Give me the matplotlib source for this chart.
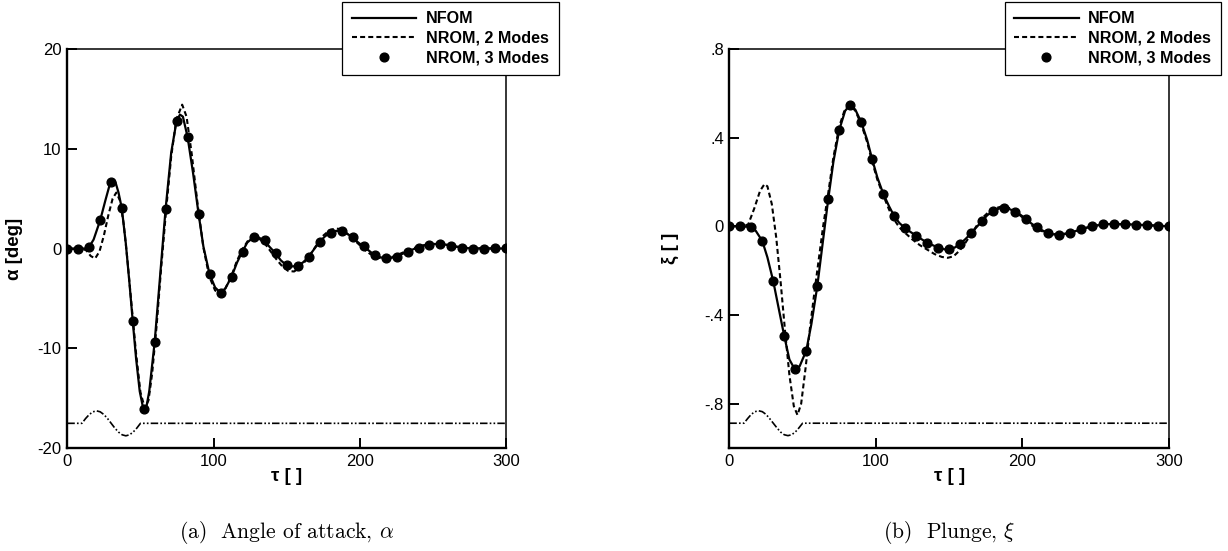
import matplotlib
matplotlib.use("Agg")
from matplotlib import pyplot as plt
from matplotlib.lines import Line2D

plt.rcParams['font.family'] = ['Liberation Sans', 'DejaVu Sans']
plt.rcParams['mathtext.fontset'] = 'cm'

# ---- (a) angle of attack ----
tau_mk = [7.5 * i for i in range(41)]
alpha_rom3 = [0, 0, 0.17, 2.84, 6.7, 4.07, -7.23, -16.1, -9.37, 4.0, 12.8, 11.16, 3.47,
              -2.56, -4.42, -2.84, -0.35, 1.12, 0.81, -0.46, -1.65, -1.75, -0.88, 0.63,
              1.58, 1.79, 1.16, 0.21, -0.63, -0.98, -0.81, -0.35, 0.1, 0.39, 0.46, 0.28,
              0.1, 0, 0, 0.03, 0.03]

tau_fom_a = [0, 7.5, 12, 15, 18, 22.5, 26, 29, 31, 33, 35, 37.2, 40, 42.5, 44.7, 47, 49.5,
             52, 54, 56, 59.7, 63, 67.2, 71, 74.7, 77, 79, 82.2, 86, 89.7, 93, 97.2, 101,
             104.7, 108, 112.2, 116, 119.5, 123, 127.2, 130, 134.7, 138, 142.2, 146, 149.7,
             153, 157.2, 161, 164.7, 168, 172.2, 176, 179.5, 183, 187, 190, 194.5, 198,
             202.2, 206, 209.7, 213, 217.2, 221, 224.7, 228, 232.2, 236, 239.7, 244, 247.2,
             251, 254.5, 258, 262.2, 266, 269.7, 275, 285, 300]
alpha_fom = [0, 0, 0, 0.17, 0.9, 2.84, 4.8, 6.4, 6.85, 6.6, 5.6, 4.07, 0.5, -3.5, -7.23, -11,
             -14.3, -16.1, -15.9, -14.3, -9.37, -3.5, 4.0, 9.6, 12.8, 13.4, 13.2, 11.16, 7.5,
             3.47, 0.2, -2.56, -3.9, -4.42, -4.0, -2.84, -1.4, -0.35, 0.6, 1.12, 1.15, 0.81,
             0.2, -0.46, -1.2, -1.65, -1.8, -1.75, -1.4, -0.88, -0.2, 0.63, 1.2, 1.58, 1.75,
             1.79, 1.6, 1.16, 0.7, 0.21, -0.2, -0.63, -0.85, -0.98, -0.95, -0.81, -0.6, -0.35,
             -0.1, 0.1, 0.3, 0.39, 0.45, 0.46, 0.4, 0.28, 0.18, 0.1, 0.02, 0, 0]

tau_rom2_a = [0, 10, 13, 16, 19, 22, 25, 28, 31, 33.5, 36, 38.5, 41, 44, 47, 50, 53, 55.5,
              58, 61, 64, 67.5, 71, 74.5, 78.5, 81.5, 85, 89, 93, 97, 101, 105, 108, 112,
              116, 120, 124, 128, 131, 135, 139, 143, 147, 151, 155, 159, 163, 167, 171, 175,
              179, 183, 187, 191, 195, 199, 203, 207, 211, 215, 219, 223, 227, 231, 235, 240,
              245, 250, 255, 260, 265, 270, 280, 300]
alpha_rom2 = [0, 0, -0.2, -0.75, -1.0, -0.3, 1.3, 3.3, 5.0, 5.6, 4.8, 2.5, -1.0, -5.8, -10.5,
              -14.4, -16.0, -15.2, -12.5, -7.8, -2.2, 3.8, 9.2, 12.9, 14.4, 13.2, 9.5, 4.5,
              0.1, -2.8, -4.2, -4.5, -4.0, -2.8, -1.2, 0.0, 0.9, 1.2, 1.0, 0.5, -0.3, -1.1,
              -1.8, -2.25, -2.3, -1.9, -1.2, -0.4, 0.5, 1.3, 1.8, 2.0, 1.95, 1.5, 1.0, 0.45,
              -0.1, -0.55, -0.85, -1.0, -0.95, -0.8, -0.55, -0.3, -0.05, 0.2, 0.38, 0.45,
              0.45, 0.35, 0.2, 0.1, 0.02, 0]

tau_pulse = [0, 10, 12.5, 15, 17.5, 20, 22.5, 25, 27.5, 30, 32.5, 35, 37.5, 40, 42.5, 45,
             47.5, 50, 300]
alpha_pulse = [-17.5, -17.5, -17.02, -16.62, -16.35, -16.25, -16.35, -16.62, -17.02, -17.5,
               -17.98, -18.38, -18.65, -18.75, -18.65, -18.38, -17.98, -17.5, -17.5]

# ---- (b) plunge ----
xi_rom3 = [0, 0, -0.003, -0.066, -0.248, -0.495, -0.645, -0.56, -0.271, 0.123, 0.434, 0.546,
           0.469, 0.301, 0.147, 0.046, -0.009, -0.043, -0.074, -0.096, -0.104, -0.079,
           -0.032, 0.024, 0.068, 0.084, 0.066, 0.033, -0.005, -0.030, -0.038, -0.030,
           -0.014, 0, 0.009, 0.011, 0.009, 0.008, 0.005, 0.003, 0]

tau_fom_b = [0, 7.5, 15, 18, 22.5, 26, 30, 34, 37.5, 41, 45, 48, 52.5, 56, 60, 64, 67.5, 71,
             75, 79, 82.5, 86, 90, 94, 97.5, 101, 105, 109, 112.5, 116, 120, 127.5, 135,
             142.5, 147, 150, 154, 157.5, 161, 165, 168.5, 172.5, 176, 180, 184, 187.5, 191,
             195, 199, 202.5, 206, 210, 214, 217.5, 221, 225, 229, 232.5, 236, 240, 244,
             247.5, 255, 262.5, 270, 277.5, 285, 292.5, 300]
xi_fom = [0, 0, -0.003, -0.02, -0.066, -0.14, -0.248, -0.38, -0.495, -0.6, -0.648, -0.63,
          -0.56, -0.44, -0.271, -0.06, 0.123, 0.29, 0.434, 0.52, 0.548, 0.525, 0.469, 0.39,
          0.301, 0.22, 0.147, 0.09, 0.046, 0.015, -0.009, -0.043, -0.074, -0.096, -0.104,
          -0.104, -0.095, -0.079, -0.058, -0.032, -0.005, 0.024, 0.05, 0.068, 0.08, 0.084,
          0.078, 0.066, 0.05, 0.033, 0.013, -0.005, -0.02, -0.030, -0.036, -0.038, -0.035,
          -0.030, -0.022, -0.014, -0.006, 0, 0.009, 0.011, 0.009, 0.008, 0.005, 0.003, 0]

tau_rom2_b = [0, 10, 13, 17, 21, 24, 26, 29, 32, 35, 38, 41, 44, 46.5, 49, 52, 55, 58, 61,
              64, 67.5, 71, 75, 79, 82.5, 86, 90, 94, 97.5, 101, 105, 109, 112.5, 116, 120,
              125, 130, 135, 140, 145, 149, 153, 157, 161, 165, 169, 173, 177, 181, 185, 188,
              192, 196, 200, 205, 210, 215, 220, 225, 230, 235, 240, 245, 250, 260, 270, 285,
              300]
xi_rom2 = [0, 0, 0.01, 0.08, 0.16, 0.19, 0.18, 0.1, -0.05, -0.25, -0.47, -0.67, -0.81, -0.85,
           -0.8, -0.64, -0.46, -0.3, -0.15, 0.0, 0.15, 0.31, 0.45, 0.53, 0.545, 0.52, 0.46,
           0.38, 0.29, 0.21, 0.14, 0.075, 0.03, -0.005, -0.03, -0.06, -0.085, -0.105, -0.125,
           -0.138, -0.142, -0.135, -0.11, -0.075, -0.035, 0.005, 0.04, 0.065, 0.08, 0.088,
           0.089, 0.08, 0.062, 0.04, 0.01, -0.012, -0.027, -0.035, -0.037, -0.032, -0.023,
           -0.013, -0.004, 0.003, 0.01, 0.009, 0.005, 0]

xi_pulse = [-0.887, -0.887, -0.866, -0.847, -0.835, -0.831, -0.835, -0.847, -0.866, -0.887,
            -0.908, -0.927, -0.939, -0.943, -0.939, -0.927, -0.908, -0.887, -0.887]

xticks = [0, 100, 200, 300]
yticks_a = [-20, -10, 0, 10, 20]
ylabels_a = ['-20', '-10', '0', '10', '20']
yticks_b = [-0.8, -0.4, 0, 0.4, 0.8]
ylabels_b = ['-.8', '-.4', '0', '.4', '.8']

fig = plt.figure(figsize=(12.28, 5.51), dpi=100)
ax1 = fig.add_axes([0.0548, 0.1864, 0.3575, 0.7252])
ax2 = fig.add_axes([0.5939, 0.1864, 0.3581, 0.7252])


def draw(ax, tf, yf, tr, yr, ym, yp, ylim, yt, ylab):
    ax.plot(tau_pulse, yp, color='black', lw=1.2, dashes=(4.5, 1.3, 1, 1.3, 1, 1.3))
    ax.plot(tr, yr, color='black', lw=1.5, dashes=(2.4, 1.5))
    ax.plot(tf, yf, color='black', lw=1.6)
    ax.plot(tau_mk, ym, 'o', color='black', ms=6.3, lw=0)
    ax.set_xlim(0, 300)
    ax.set_ylim(*ylim)
    ax.set_xticks(xticks)
    ax.set_xticklabels([str(t) for t in xticks])
    ax.set_yticks(yt)
    ax.set_yticklabels(ylab)
    ax.tick_params(direction='in', length=7, width=1.4, labelsize=12, pad=4)
    for s in ['left', 'bottom']:
        ax.spines[s].set_linewidth(1.7)
    for s in ['top', 'right']:
        ax.spines[s].set_linewidth(1.1)
    ax.set_xlabel('τ [ ]', fontsize=13.5, fontweight='bold')
    ax.xaxis.set_label_coords(0.5, -0.05)
    handles = [Line2D([], [], color='black', lw=1.6),
               Line2D([], [], color='black', lw=1.5, dashes=(2.4, 1.5)),
               Line2D([], [], color='black', marker='o', ms=6.3, lw=0)]
    leg = ax.legend(handles, ['NFOM', 'NROM, 2 Modes', 'NROM, 3 Modes'],
                    loc='upper left', bbox_to_anchor=(0.626, 1.1176), borderaxespad=0,
                    fancybox=False, framealpha=1, edgecolor='black', numpoints=1,
                    handlelength=4.0, handletextpad=0.6, labelspacing=0.28, borderpad=0.6,
                    prop={'weight': 'bold', 'size': 11.6})
    leg.get_frame().set_linewidth(0.9)


draw(ax1, tau_fom_a, alpha_fom, tau_rom2_a, alpha_rom2, alpha_rom3, alpha_pulse,
     (-20, 20), yticks_a, ylabels_a)
draw(ax2, tau_fom_b, xi_fom, tau_rom2_b, xi_rom2, xi_rom3, xi_pulse,
     (-1.0, 0.8), yticks_b, ylabels_b)

ax1.set_ylabel('α [deg]', fontsize=13.5, fontweight='bold')
ax1.yaxis.set_label_coords(-0.1, 0.5)
ax2.set_ylabel('ξ [ ]', fontsize=13.5, fontweight='bold')
ax2.yaxis.set_label_coords(-0.115, 0.5)

fig.text(286.8 / 1228, 1 - 533 / 551, r'(a)  Angle of attack, $\alpha$', family='cmr10',
         fontsize=15.5, ha='center', va='center')
fig.text(949.2 / 1228, 1 - 533 / 551, r'(b)  Plunge, $\xi$', family='cmr10',
         fontsize=15.5, ha='center', va='center')

fig.savefig('out.png', dpi=100)
